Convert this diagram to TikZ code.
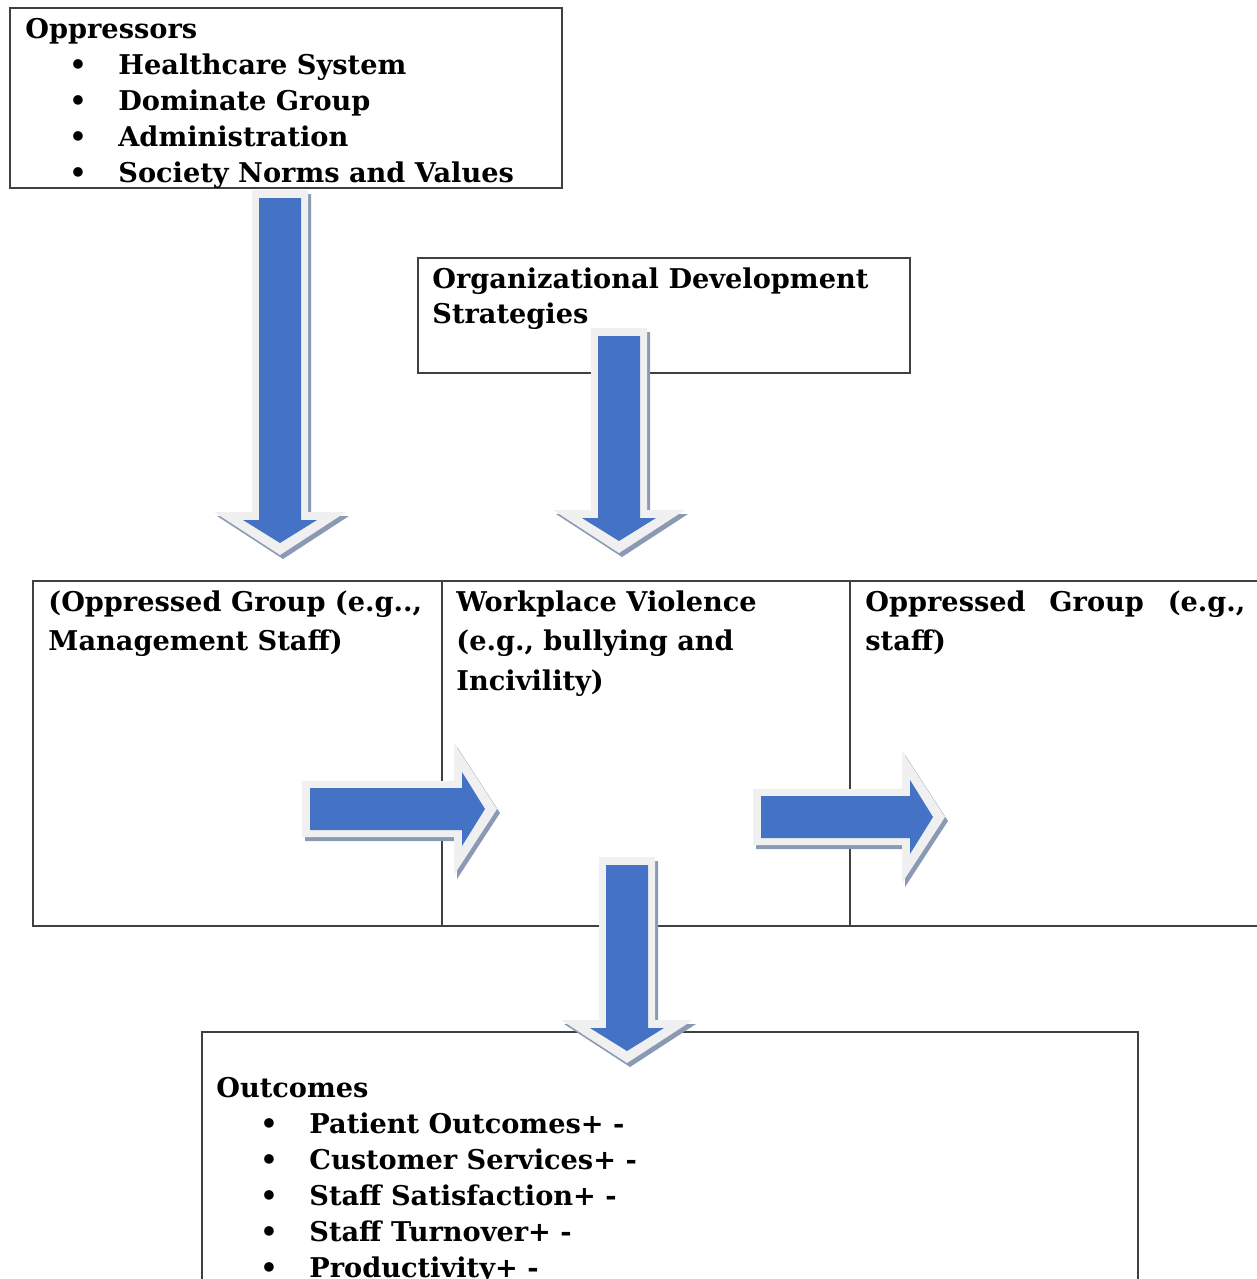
\documentclass[tikz,border=0pt]{standalone}
\usepackage{fontspec}
\setmainfont{DejaVu Serif}
\usepackage{xcolor}
\usepackage{tikz}
\definecolor{frame}{HTML}{404040}
\definecolor{arrowblue}{HTML}{4472C4}
\definecolor{arrowrim}{HTML}{F0F0F0}
\definecolor{arrowshade}{HTML}{8A99B4}

% bullet item indent
\newcommand{\bul}{\hspace*{22pt}\makebox[24.5pt][l]{\textbullet}}
% fat block arrow: tail point, direction, length (px)
\newcommand{\fatarrow}[3]{%
  \begin{scope}[shift={#1}]
    \fill[arrowshade, shift={(3,4)}, rotate=#2] (0,-28) -- ({#3-43},-28) -- ({#3-43},-66) -- (#3,0)
      -- ({#3-43},66) -- ({#3-43},28) -- (0,28) -- cycle;
    \fill[arrowrim, rotate=#2] (0,-28) -- ({#3-43},-28) -- ({#3-43},-66) -- (#3,0)
      -- ({#3-43},66) -- ({#3-43},28) -- (0,28) -- cycle;
    \fill[arrowblue, rotate=#2] (8,-21) -- ({#3-35},-21) -- ({#3-35},-37) -- ({#3-12},0)
      -- ({#3-35},37) -- ({#3-35},21) -- (8,21) -- cycle;
  \end{scope}}

\begin{document}
\begin{tikzpicture}[x=0.5pt, y=-0.5pt,
  box/.style={draw=frame, line width=0.6pt, anchor=north west, inner sep=0pt, outer sep=0pt},
  txt/.style={anchor=north west, inner sep=0pt, align=left, font=\fontsize{13.6}{18}\selectfont\bfseries}]
  \useasboundingbox (0,0) rectangle (1257,1279);
  \clip (0,0) rectangle (1257,1279);
  \fill[white] (0,0) rectangle (1257,1279);

  % Oppressors
  \node[box, minimum width=276pt, minimum height=90pt] (opp) at (10,8) {};
  \node[txt] (opptxt) at ([shift={(15,10)}]opp.north west)
    {Oppressors\\ \bul Healthcare System\\ \bul Dominate Group\\ \bul Administration\\ \bul Society Norms and Values};

  % Organizational development
  \node[box, minimum width=246pt, minimum height=57.5pt] (ods) at (418,258) {};
  \node[txt, font=\fontsize{13.6}{17.5}\selectfont\bfseries] (odstxt) at ([shift={(14,9)}]ods.north west)
    {Organizational Development\\ Strategies};

  % middle row
  \node[box, minimum width=204.5pt, minimum height=172.5pt] (grpL) at (33,581) {};
  \node[box, minimum width=204pt, minimum height=172.5pt] (wpv) at (442,581) {};
  \node[box, minimum width=206pt, minimum height=172.5pt] (grpR) at (850,581) {};
  \node[txt, font=\fontsize{13.6}{19.75}\selectfont\bfseries] (grpLtxt) at ([shift={(15,9)}]grpL.north west)
    {(Oppressed Group (e.g..,\\ Management Staff)};
  \node[txt, font=\fontsize{13.6}{19.75}\selectfont\bfseries] (wpvtxt) at ([shift={(14,9)}]wpv.north west)
    {Workplace Violence\\ (e.g., bullying and\\ Incivility)};
  \node[txt, font=\fontsize{13.6}{19.75}\selectfont\bfseries] (grpRtxt) at ([shift={(15,9)}]grpR.north west)
    {\makebox[190pt][s]{Oppressed\hfill Group\hfill (e.g.,}\\ staff)};

  % Outcomes
  \node[box, minimum width=468pt, minimum height=130pt] (out) at (202,1032) {};
  \node[txt] (outtxt) at ([shift={(14,45)}]out.north west)
    {Outcomes\\ \bul Patient Outcomes+ -\\ \bul Customer Services+ -\\ \bul Staff Satisfaction+ -\\
     \bul Staff Turnover+ -\\ \bul Productivity+ -};

  % block arrows
  \coordinate (a1) at (280,190);
  \coordinate (a2) at (619,328);
  \coordinate (a3) at (627,857);
  \coordinate (a4) at (302,809);
  \coordinate (a5) at (753,817);
  \fatarrow{(a1)}{-90}{365}
  \fatarrow{(a2)}{-90}{225}
  \fatarrow{(a3)}{-90}{206}
  \fatarrow{(a4)}{0}{195}
  \fatarrow{(a5)}{0}{192}
\end{tikzpicture}
\end{document}
